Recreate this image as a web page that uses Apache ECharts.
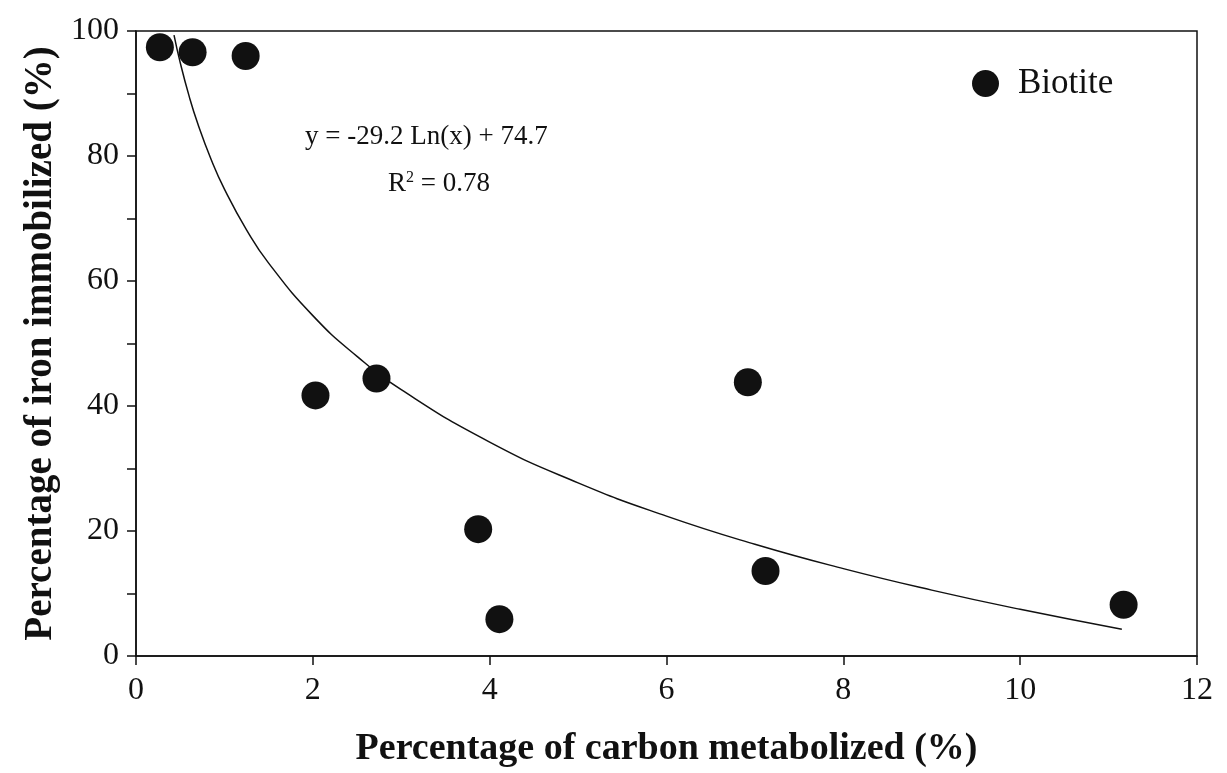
<!DOCTYPE html>
<html>
<head>
<meta charset="utf-8">
<script src="https://cdn.jsdelivr.net/npm/echarts@6/dist/echarts.min.js"></script>
<style>
  html, body { margin: 0; padding: 0; background: #fff; }
  #chart { width: 1227px; height: 773px; }
</style>
</head>
<body>
<div id="chart"></div>
<script>
// measured points (carbon metabolized %, iron immobilized %)
let carbon = [0.27, 0.64, 1.24, 2.03, 2.72, 3.87, 4.11, 6.92, 7.12, 11.17]
let iron = [97.4, 96.6, 96.0, 41.7, 44.4, 20.3, 5.9, 43.8, 13.6, 8.2]

// trend line as printed on the figure: y = a Ln(x) + b
let fitCoef = [-29.2, 74.7]
let fitX = [0.43, 0.5, 0.6, 0.7, 0.85, 1, 1.25, 1.5, 2, 2.5, 3, 4, 5, 6, 7, 8, 9, 10, 11.15]

let xTicks = [0, 2, 4, 6, 8, 10, 12]
let yTicks = [0, 20, 40, 60, 80, 100]

let font = '"Liberation Serif", "DejaVu Serif", serif'

let points = carbon.map((c, i) => [c, iron[i]])
let fitLine = fitX.map(x => [x, fitCoef[0] * Math.log(x) + fitCoef[1]])

let chart = echarts.init(document.getElementById('chart'))

let option = {
    animation: false,
    backgroundColor: '#fff',
    grid: {
        left: 136, right: 30, top: 31, bottom: 116,
        show: true, borderColor: '#111', borderWidth: 1.5
    },
    legend: {
        data: [{name: 'Biotite', icon: 'circle'}],
        left: 967, top: 61,
        itemWidth: 27, itemHeight: 27, itemGap: 10,
        textStyle: {fontFamily: font, fontSize: 35, color: '#111', padding: [0, 0, 0, 14]}
    },
    xAxis: {
        type: 'value', min: xTicks[0], max: xTicks[xTicks.length - 1], interval: 2,
        name: 'Percentage of carbon metabolized (%)',
        nameLocation: 'middle', nameGap: 74,
        nameTextStyle: {fontFamily: font, fontSize: 38, fontWeight: 'bold', color: '#111'},
        axisLine: {lineStyle: {color: '#111', width: 1.5}},
        axisTick: {inside: false, length: 9, lineStyle: {color: '#111', width: 1.5}},
        axisLabel: {fontFamily: font, fontSize: 32, color: '#111', margin: 19},
        splitLine: {show: false}
    },
    yAxis: {
        type: 'value', min: yTicks[0], max: yTicks[yTicks.length - 1], interval: 20,
        name: 'Percentage of iron immobilized (%)',
        nameLocation: 'middle', nameGap: 76,
        nameTextStyle: {fontFamily: font, fontSize: 39, fontWeight: 'bold', color: '#111'},
        axisLine: {lineStyle: {color: '#111', width: 1.5}},
        axisTick: {inside: false, length: 9, lineStyle: {color: '#111', width: 1.5}},
        minorTick: {show: true, splitNumber: 2, length: 9, lineStyle: {color: '#111', width: 1.5}},
        axisLabel: {fontFamily: font, fontSize: 32, color: '#111', margin: 17},
        splitLine: {show: false}
    },
    graphic: [
        {
            type: 'text', left: 305, top: 123,
            style: {text: 'y = -29.2 Ln(x) + 74.7', fontFamily: font, fontSize: 27, fill: '#111'}
        },
        {
            type: 'text', left: 388, top: 170,
            style: {
                text: 'R{s|2} = 0.78',
                fontFamily: font, fontSize: 27, fill: '#111',
                rich: {s: {fontFamily: font, fontSize: 16, fill: '#111', verticalAlign: 'top', padding: [0, 0, 12, 0]}}
            }
        }
    ],
    series: [
        {
            name: 'fit', type: 'line', data: fitLine, smooth: true,
            showSymbol: false, symbol: 'none', silent: true,
            lineStyle: {color: '#111', width: 1.5}, z: 1
        },
        {
            name: 'Biotite', type: 'scatter', data: points,
            symbol: 'circle', symbolSize: 28,
            itemStyle: {color: '#111', opacity: 1}, z: 3
        }
    ]
}

chart.setOption(option)
</script>
</body>
</html>
